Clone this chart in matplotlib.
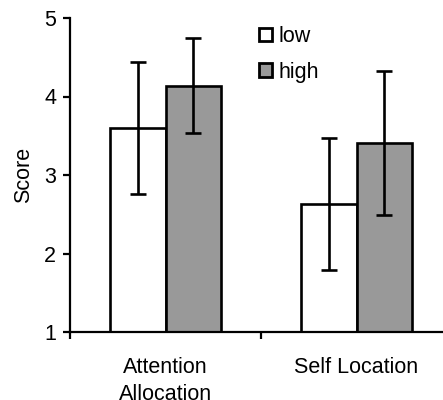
import numpy as np
import matplotlib
matplotlib.use('Agg')
import matplotlib.pyplot as plt

plt.rcParams['font.family'] = ['Liberation Sans', 'DejaVu Sans']

categories = ['Attention\nAllocation', 'Self Location']
low = [3.60, 2.63]
low_err = [0.84, 0.84]
high = [4.14, 3.41]
high_err = [0.60, 0.92]

fig = plt.figure(figsize=(4.43, 4.0), dpi=100)
# axes runs a bit past the right edge, as in the original
ax = fig.add_axes([70 / 443, 68 / 400, 382 / 443, 314 / 400])

x = np.arange(len(categories))
w = 0.29
ax.bar(x - w / 2, low, w, color='white', edgecolor='black', linewidth=1.9,
       label='low', zorder=2)
ax.bar(x + w / 2, high, w, color='#999999', edgecolor='black', linewidth=1.9,
       label='high', zorder=2)
ax.errorbar(x - w / 2, low, yerr=low_err, fmt='none', ecolor='black',
            elinewidth=1.9, capsize=6, capthick=1.9, zorder=3)
ax.errorbar(x + w / 2, high, yerr=high_err, fmt='none', ecolor='black',
            elinewidth=1.9, capsize=6, capthick=1.9, zorder=3)

ax.set_xlim(-0.5, 1.5)
ax.set_ylim(1, 5)
ax.set_yticks([1, 2, 3, 4, 5])
ax.tick_params(axis='y', labelsize=15.5, length=5, width=1.6, pad=5)

# separator ticks between categories, labels centred as minor ticks
ax.set_xticks([-0.5, 0.5, 1.5])
ax.set_xticklabels([])
ax.tick_params(axis='x', which='major', length=5, width=1.6)
ax.set_xticks(x, minor=True)
ax.set_xticklabels(categories, minor=True, fontsize=15.5, linespacing=1.4)
ax.tick_params(axis='x', which='minor', length=0, pad=18)

ax.set_ylabel('Score', fontsize=15.5)
ax.yaxis.set_label_coords(-0.095, 0.5)

for s in ['top', 'right']:
    ax.spines[s].set_visible(False)
for s in ['left', 'bottom']:
    ax.spines[s].set_linewidth(1.6)

leg = ax.legend(loc='upper left', bbox_to_anchor=(259 / 443, 1 - 26 / 400),
                bbox_transform=fig.transFigure, frameon=False, fontsize=15.5,
                borderpad=0, borderaxespad=0, handlelength=0.6,
                handleheight=0.6, handletextpad=0.3, labelspacing=0.68)
for p in leg.get_patches():
    p.set_linewidth(2.0)

fig.savefig('out.png', dpi=100)
